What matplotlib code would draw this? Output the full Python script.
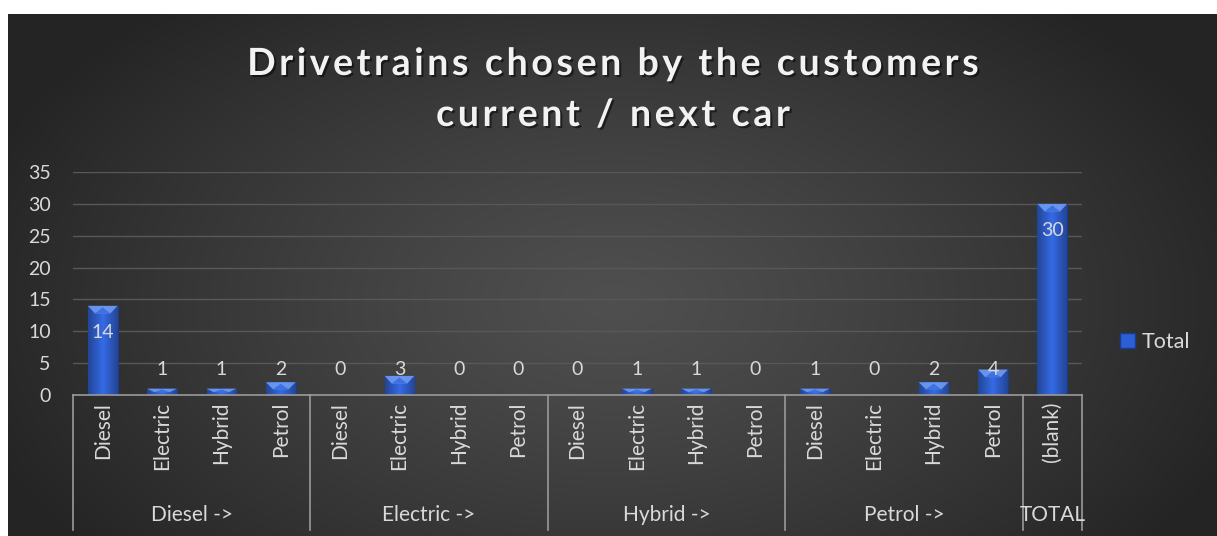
import numpy as np
import matplotlib
matplotlib.use("Agg")
import matplotlib.pyplot as plt
from matplotlib.patches import Polygon, Patch
from matplotlib.font_manager import FontProperties
import matplotlib.patheffects as pe

# ---- data ----
groups = ["Diesel ->", "Electric ->", "Hybrid ->", "Petrol ->", "TOTAL"]
sub_labels = ["Diesel", "Electric", "Hybrid", "Petrol",
              "Diesel", "Electric", "Hybrid", "Petrol",
              "Diesel", "Electric", "Hybrid", "Petrol",
              "Diesel", "Electric", "Hybrid", "Petrol",
              "(blank)"]
group_sizes = [4, 4, 4, 4, 1]
values = [14, 1, 1, 2,
          0, 3, 0, 0,
          0, 1, 1, 0,
          1, 0, 2, 4,
          30]
series_name = "Total"
title_lines = ["Drivetrains chosen by the customers", "current / next car"]
yticks = [0, 5, 10, 15, 20, 25, 30, 35]

FONT = ["Lato", "DejaVu Sans"]
TXT = "#d9d9d9"
W, H = 1217, 536
NUM_FS = 14
LAB_FS = 15

fig = plt.figure(figsize=(W / 100, H / 100), dpi=100, facecolor="white")

# background chart area with radial gradient
bg = fig.add_axes([8 / W, 0, 1 - 8 / W, 1 - 14 / H])
bg.set_axis_off()
ny, nx = 300, 700
yy, xx = np.mgrid[0:ny, 0:nx]
cx, cy = nx * 0.5, ny * 0.55
r = np.sqrt(((xx - cx) / (nx * 0.55)) ** 2 + ((yy - cy) / (ny * 0.75)) ** 2)
r = np.clip(r, 0, 1)
c_center, c_edge = 0.31, 0.145
g = c_center + (c_edge - c_center) * r ** 1.2
img = np.dstack([g, g, g])
bg.imshow(img, extent=[0, 1, 0, 1], aspect="auto", interpolation="bicubic")
bg.set_xlim(0, 1)
bg.set_ylim(0, 1)

# main axes
left, right = 73 / W, 1082 / W
bottom, top = 1 - 395 / H, 1 - 172 / H
ax = fig.add_axes([left, bottom, right - left, top - bottom])
ax.patch.set_alpha(0)
n = len(values)
x = np.arange(n)
ax.set_xlim(-0.5, n - 0.5)
ax.set_ylim(0, 35)
ax.set_yticks(yticks)
ax.set_yticklabels([str(t) for t in yticks], fontfamily=FONT, fontsize=NUM_FS, color=TXT)
ax.tick_params(axis="y", length=0, pad=16)
ax.set_xticks([])
for s in ["top", "right", "left"]:
    ax.spines[s].set_visible(False)
ax.spines["bottom"].set_color("#9a9a9a")
ax.spines["bottom"].set_linewidth(1.2)
for t in yticks[1:]:
    ax.axhline(t, color="#585858", lw=1.0, zorder=0)

bw = 0.5
bars = ax.bar(x, values, width=bw, color="#2c5fd6", edgecolor="#1a3c8f",
              linewidth=0.8, zorder=2)
grad = np.linspace(0, 1, 50)
shade = 1 - 0.35 * np.abs(grad - 0.5) * 2
base = np.array([0.20, 0.40, 0.86])
gimg = np.clip(base[None, None, :] * shade[None, :, None] * 1.05, 0, 1)
for xi, v, b in zip(x, values, bars):
    if v <= 0:
        continue
    im = ax.imshow(gimg, extent=[xi - bw / 2, xi + bw / 2, 0, v], aspect="auto",
                   zorder=2.1, interpolation="bilinear")
    im.set_clip_path(b)
    d = min(1.2, v * 0.55)
    tri = Polygon([[xi - bw / 2, v], [xi + bw / 2, v], [xi + bw / 2 - 0.12, v - d],
                   [xi - bw / 2 + 0.12, v - d]], closed=True,
                  facecolor="#6f9bf2", edgecolor="none", zorder=2.2, alpha=0.9)
    ax.add_patch(tri)
    tri2 = Polygon([[xi - bw / 2 + 0.12, v - d], [xi + bw / 2 - 0.12, v - d], [xi, v - d * 0.2]],
                   closed=True, facecolor="#3f72e0", edgecolor="none", zorder=2.3)
    ax.add_patch(tri2)

# data labels
for xi, v in zip(x, values):
    ypos = max(v - 4.2, 4.0)
    ax.text(xi, ypos, str(v), ha="center", va="center", fontfamily=FONT,
            fontsize=NUM_FS, color=TXT, zorder=5)

# category labels (rotated)
for xi, lab in zip(x, sub_labels):
    ax.text(xi, -0.03, lab, transform=ax.get_xaxis_transform(), rotation=90,
            ha="center", va="top", fontfamily=FONT, fontsize=LAB_FS, color=TXT)

# group separators and labels
sep_color = "#9a9a9a"
bottom_y = -(530 - 395) / (395 - 172)
edges = np.concatenate([[0], np.cumsum(group_sizes)]) - 0.5
for e in edges:
    ax.plot([e, e], [0, bottom_y], transform=ax.get_xaxis_transform(),
            color=sep_color, lw=1.2, clip_on=False)
group_y = -(515 - 395) / (395 - 172)
for i, gname in enumerate(groups):
    cxg = (edges[i] + edges[i + 1]) / 2
    ax.text(cxg, group_y, gname, transform=ax.get_xaxis_transform(),
            ha="center", va="center", fontfamily=FONT, fontsize=LAB_FS, color=TXT)

# legend
handle = Patch(facecolor="#2c5fd6", edgecolor="#1a3c8f")
leg = fig.legend([handle], [series_name], loc="center left",
                 bbox_to_anchor=(1101 / W, 1 - 342 / H), frameon=False,
                 handlelength=0.7, handleheight=0.7, handletextpad=0.3,
                 prop={"family": FONT, "size": 15.5})
for t in leg.get_texts():
    t.set_color(TXT)

# title with letter spacing
renderer = fig.canvas.get_renderer()
tprop = FontProperties(family=FONT, weight="bold", size=27)
spacing = 3.6  # px


def wpx(s):
    w, _, _ = renderer.get_text_width_height_descent(s + "I", tprop, ismath=False)
    w0, _, _ = renderer.get_text_width_height_descent("I", tprop, ismath=False)
    return w - w0


shadow = [pe.withSimplePatchShadow(offset=(1.5, -1.5), shadow_rgbFace="black", alpha=0.5)]
for line, base_y in zip(title_lines, [75, 126]):
    total = wpx(line) + spacing * (len(line) - 1)
    x0 = 613 - total / 2
    for i, ch in enumerate(line):
        if ch == " ":
            continue
        xp = x0 + wpx(line[:i]) + spacing * i
        fig.text(xp / W, 1 - base_y / H, ch, ha="left", va="baseline",
                 fontproperties=tprop, color="#f2f2f2", path_effects=shadow)

fig.savefig("out.png", dpi=100, facecolor="white")
